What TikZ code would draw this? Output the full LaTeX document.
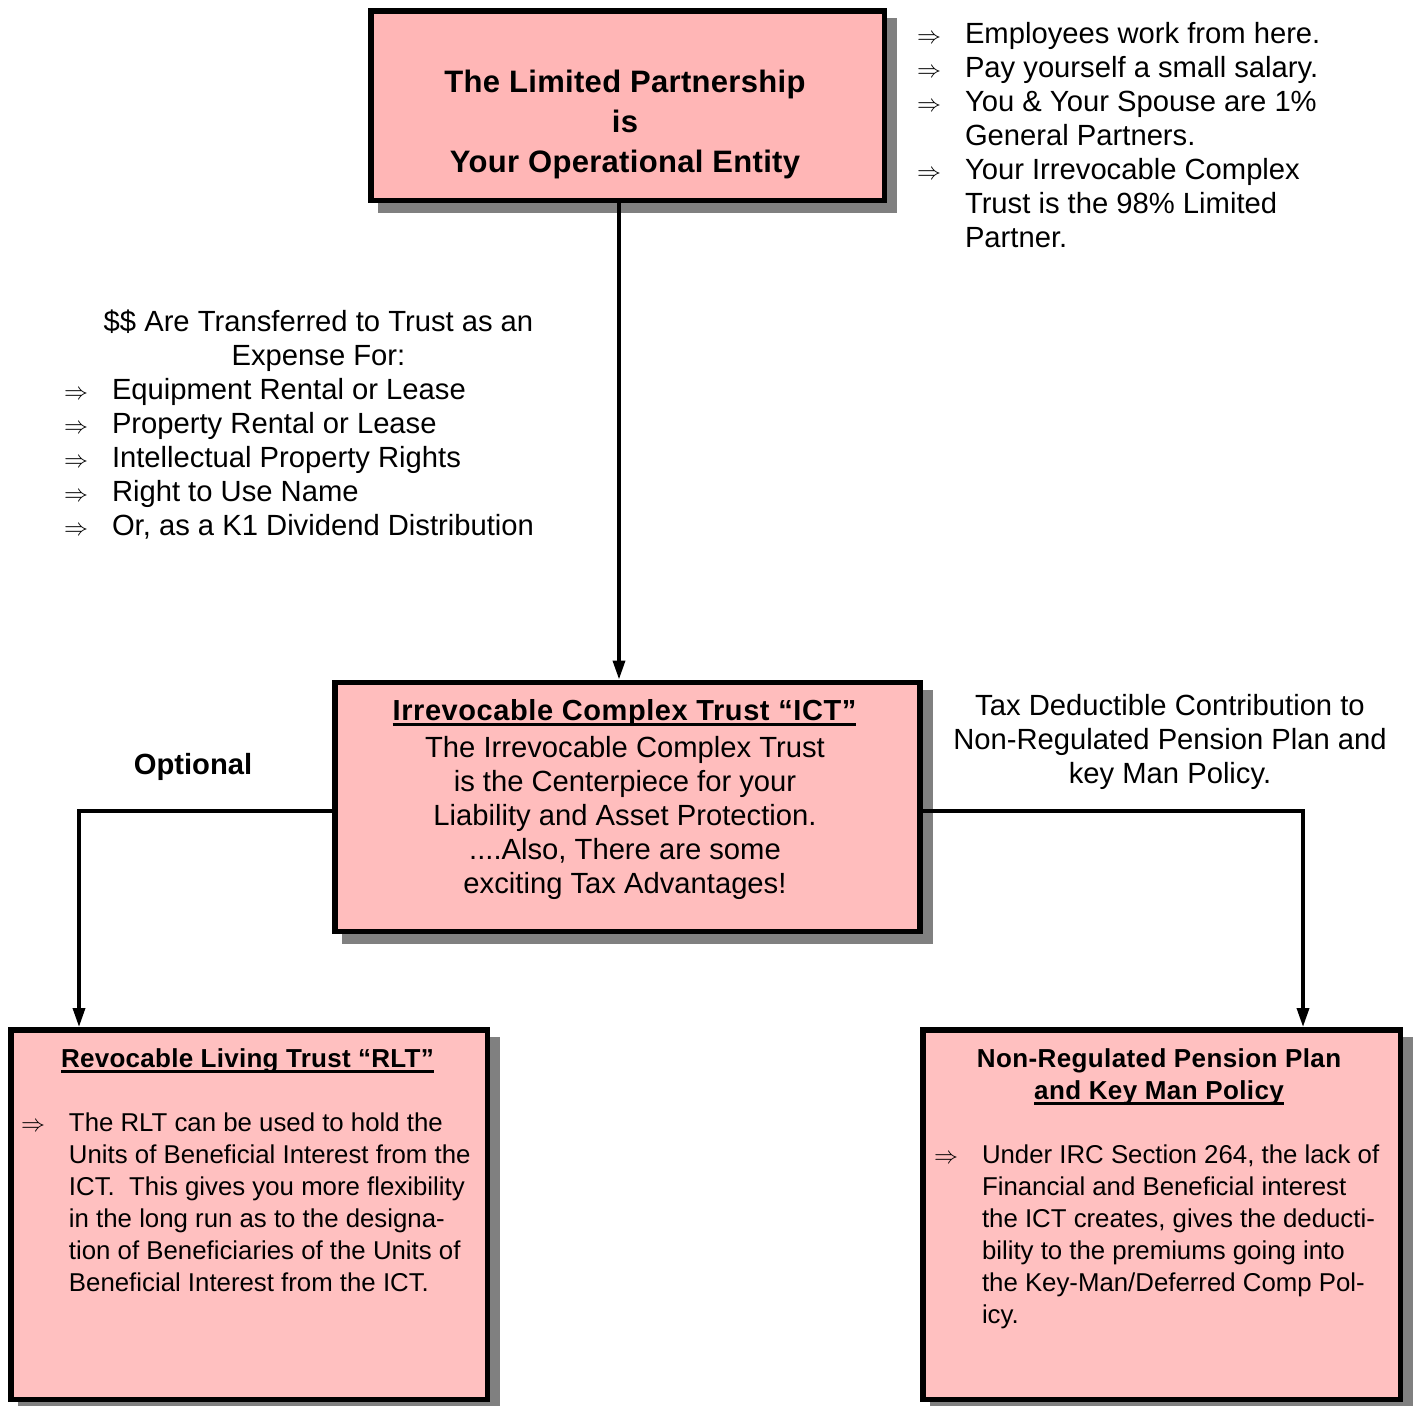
\documentclass[tikz,border=0pt]{standalone}
\usepackage{fontspec}
\usepackage{array}
\setmainfont{Liberation Sans}
\usetikzlibrary{arrows.meta}

\definecolor{lpfill}{HTML}{FFB6B6}
\definecolor{ictfill}{HTML}{FFBDBD}
\definecolor{lowfill}{HTML}{FFC0C0}
\definecolor{shadowgray}{HTML}{808080}

% text sizes
\newcommand\bodyfont{\fontsize{14.6}{17}\selectfont}
\newcommand\smallbody{\fontsize{12.9}{16}\selectfont}
% bullet arrow
\newcommand\imp{{\fontsize{12.5}{12.5}\selectfont$\Rightarrow$}}
% underline drawn as a rule below the baseline
\newcommand\ulin[1]{\setbox0=\hbox{#1}\rlap{\rule[-2.8pt]{\wd0}{1.1pt}}\box0}
\newcommand\spaced[1]{\addfontfeatures{LetterSpace=#1}}

\tikzset{
  box/.style={rectangle, draw=black, line width=2.75pt, inner sep=0pt,
    preaction={draw=shadowgray, fill=shadowgray,
      transform canvas={shift={(5pt,-5pt)}}}},
  txt/.style={inner sep=0pt, outer sep=0pt, anchor=base},
  lst/.style={inner sep=0pt, outer sep=0pt, anchor=base west},
  conn/.style={line width=1.75pt, -{Triangle[width=6pt,length=9.5pt]}},
}

\begin{document}
\begin{tikzpicture}[x=0.5pt, y=-0.5pt]
\useasboundingbox (0,0) rectangle (1414,1405);

% boxes
\node[box, fill=lpfill, minimum width=256.75pt, minimum height=94.75pt] (lp) at (627.5,105.5) {};
\node[box, fill=ictfill, minimum width=292.5pt, minimum height=124.5pt] (ict) at (627.25,806.75) {};
\node[box, fill=lowfill, minimum width=238.25pt, minimum height=184.75pt] (rlt) at (249,1214.5) {};
\node[box, fill=lowfill, minimum width=238.75pt, minimum height=184.75pt] (npp) at (1161.5,1214.5) {};

% connector routing
\coordinate (vx) at (619,0);
\coordinate (ly) at (0,811);
\coordinate (lx) at (79,0);
\coordinate (rx) at (1303,0);
\draw[conn] (lp.south -| vx) -- (ict.north -| vx);
\draw[conn] (ict.west |- ly) -| (rlt.north -| lx);
\draw[conn] (ict.east |- ly) -| (npp.north -| rx);

% Limited Partnership
\node[txt] (lptitle) at (625,92) {\fontsize{15.5}{20}\selectfont\bfseries\spaced{1}%
  \begin{tabular}[t]{@{}c@{}}The Limited Partnership\\ is\\ Your Operational Entity\end{tabular}};

\node[lst] (lpnotes) at (917,43) {\bodyfont
  \begin{tabular}[t]{@{}w{l}{24pt}@{}l@{}}
  \imp & Employees work from here.\\
  \imp & Pay yourself a small salary.\\
  \imp & You \& Your Spouse are 1\%\\
       & General Partners.\\
  \imp & Your Irrevocable Complex\\
       & Trust is the 98\% Limited\\
       & Partner.
  \end{tabular}};

% transfers to the trust
\node[txt] (xferhead) at (318.5,331) {\bodyfont
  \begin{tabular}[t]{@{}c@{}}\$\$ Are Transferred to Trust as an\\ Expense For:\end{tabular}};
\node[lst] (xferlist) at (64,399) {\bodyfont
  \begin{tabular}[t]{@{}w{l}{24pt}@{}l@{}}
  \imp & Equipment Rental or Lease\\
  \imp & Property Rental or Lease\\
  \imp & Intellectual Property Rights\\
  \imp & Right to Use Name\\
  \imp & Or, as a K1 Dividend Distribution
  \end{tabular}};

% Irrevocable Complex Trust
\node[txt] (icttitle) at (624.5,720) {\fontsize{14.5}{17}\selectfont\bfseries\spaced{2}%
  \ulin{Irrevocable Complex Trust “ICT”}};
\node[txt] (ictbody) at (625,757) {\bodyfont
  \begin{tabular}[t]{@{}c@{}}The Irrevocable Complex Trust\\
  is the Centerpiece for your\\
  Liability and Asset Protection.\\
  ....Also, There are some\\
  exciting Tax Advantages!\end{tabular}};

\node[txt] (optional) at (193,774) {\fontsize{14.6}{17}\selectfont\bfseries Optional};
\node[txt] (taxnote) at (1170,715) {\bodyfont
  \begin{tabular}[t]{@{}c@{}}Tax Deductible Contribution to\\
  Non-Regulated Pension Plan and\\
  key Man Policy.\end{tabular}};

% Revocable Living Trust
\node[txt] (rlttitle) at (247.5,1067) {\fontsize{13}{16}\selectfont\bfseries\spaced{1}%
  \ulin{Revocable Living Trust “RLT”}};
\node[lst] (rltbody) at (21,1131) {\smallbody
  \begin{tabular}[t]{@{}w{l}{24pt}@{}l@{}}
  \imp & The RLT can be used to hold the\\
       & Units of Beneficial Interest from the\\
       & ICT.\ \ This gives you more flexibility\\
       & in the long run as to the designa-\\
       & tion of Beneficiaries of the Units of\\
       & Beneficial Interest from the ICT.
  \end{tabular}};

% Non-Regulated Pension Plan
\node[txt] (npptitle) at (1159,1067) {\fontsize{13}{16}\selectfont\bfseries\spaced{1.5}%
  \begin{tabular}[t]{@{}c@{}}Non-Regulated Pension Plan\\ \ulin{and Key Man Policy}\end{tabular}};
\node[lst] (nppbody) at (934,1163) {\smallbody
  \begin{tabular}[t]{@{}w{l}{24pt}@{}l@{}}
  \imp & Under IRC Section 264, the lack of\\
       & Financial and Beneficial interest\\
       & the ICT creates, gives the deducti-\\
       & bility to the premiums going into\\
       & the Key-Man/Deferred Comp Pol-\\
       & icy.
  \end{tabular}};
\end{tikzpicture}
\end{document}
